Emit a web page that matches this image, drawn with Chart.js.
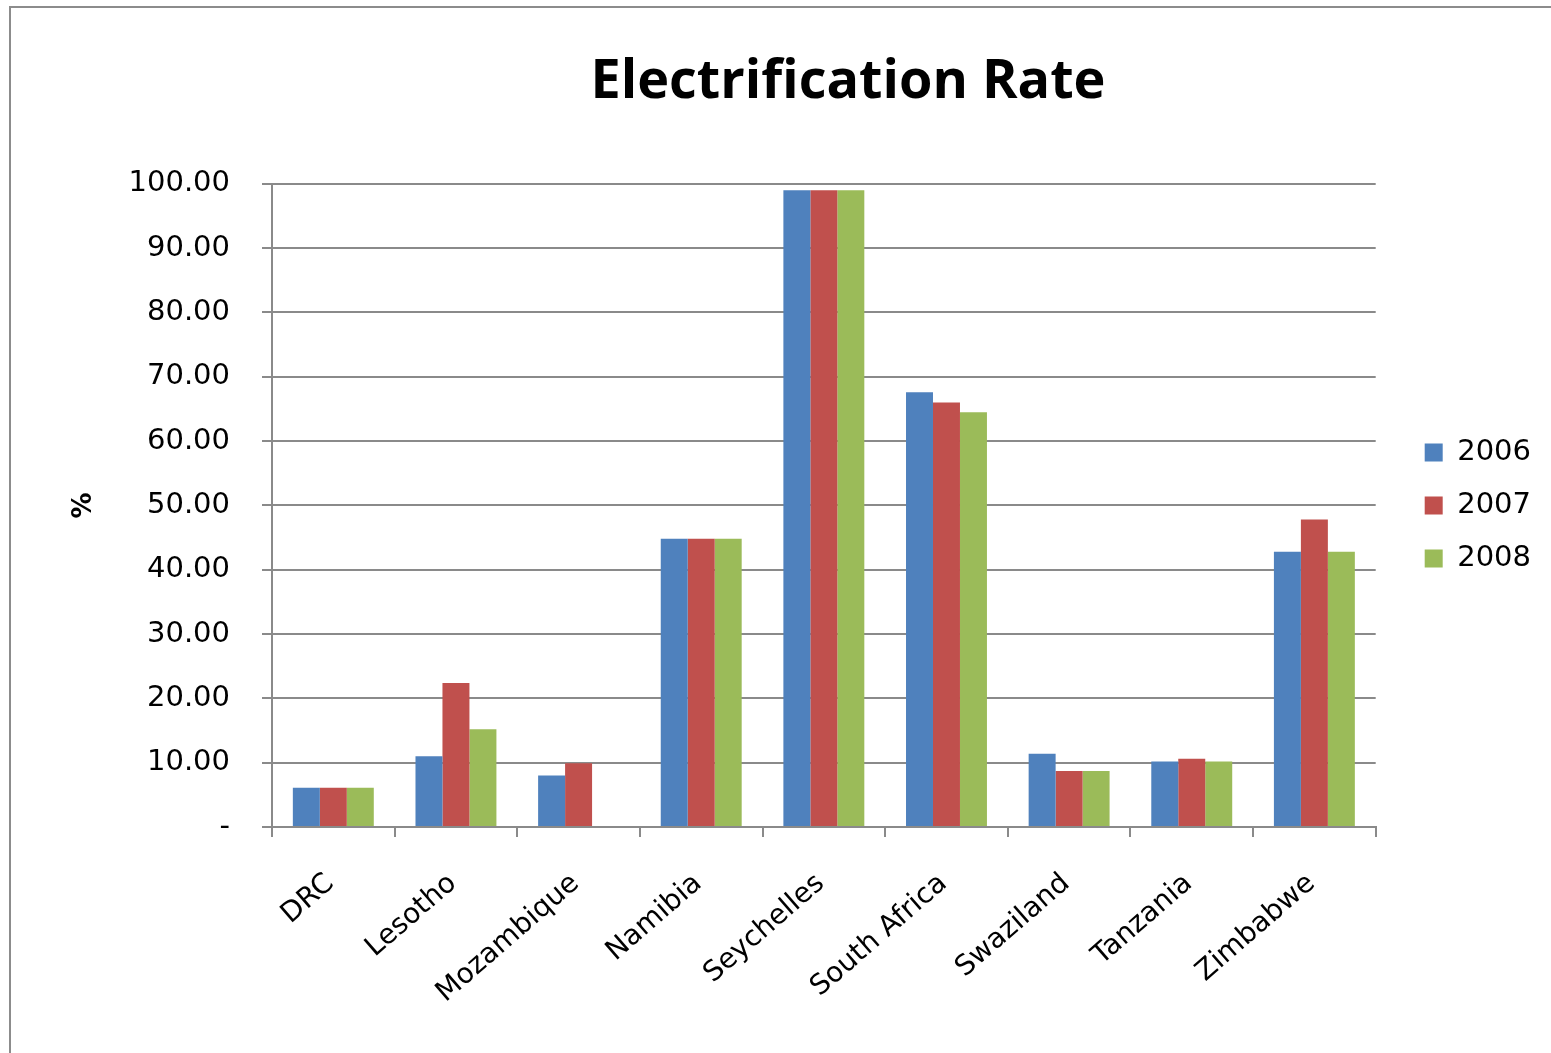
<!DOCTYPE html>
<html>
<head>
<meta charset="utf-8">
<title>Electrification Rate</title>
<script src="https://cdn.jsdelivr.net/npm/chart.js@4.4.1/dist/chart.umd.min.js"></script>
<style>
  html, body { margin: 0; padding: 0; background: #fff; overflow: hidden; }
  #wrap { position: relative; width: 1696px; height: 1053px; }
  #frame {
    position: absolute; left: 9px; top: 6px; width: 1680px; height: 1100px;
    border: 2px solid #8c8c8c; box-sizing: border-box; pointer-events: none;
  }
  canvas { position: absolute; left: 0; top: 0; }
</style>
</head>
<body>
<div id="wrap">
  <canvas id="chart" width="1696" height="1053"></canvas>
  <div id="frame"></div>
</div>
<script>
// Chart data
const categories = ['DRC', 'Lesotho', 'Mozambique', 'Namibia', 'Seychelles',
  'South Africa', 'Swaziland', 'Tanzania', 'Zimbabwe'];
const seriesNames = ['2006', '2007', '2008'];
const rate2006 = [6.1, 11.0, 8.0, 44.8, 99.0, 67.6, 11.4, 10.2, 42.8];
const rate2007 = [6.1, 22.4, 9.9, 44.8, 99.0, 66.0, 8.7, 10.6, 47.8];
const rate2008 = [6.1, 15.2, null, 44.8, 99.0, 64.5, 8.7, 10.2, 42.8];
const yTicks = [0, 10, 20, 30, 40, 50, 60, 70, 80, 90, 100];

const colors = ['#4f81bd', '#c0504d', '#9bbb59'];
const gridColor = '#8a8a8a';
const baseFont = 'DejaVu Sans';

// blank box on the right side of the layout, used as spacing
function spacer(width, weight) {
  return {
    type: 'linear',
    position: 'right',
    display: true,
    weight: weight,
    border: { display: false },
    grid: { display: false },
    ticks: { display: false },
    afterFit: function(scale) {
      scale.width = width;
    }
  };
}

document.addEventListener('DOMContentLoaded', function() {
  const ctx = document.getElementById('chart').getContext('2d');

  const datasets = [rate2006, rate2007, rate2008].map((values, i) => ({
    label: seriesNames[i],
    data: values,
    backgroundColor: colors[i],
    borderWidth: 0,
    categoryPercentage: 0.66,
    barPercentage: 1.0
  }));

  new Chart(ctx, {
    type: 'bar',
    data: { labels: categories, datasets: datasets },
    options: {
      responsive: false,
      animation: false,
      layout: { padding: 0 },
      plugins: {
        title: {
          display: true,
          text: 'Electrification Rate',
          color: '#000',
          font: { family: 'Open Sans', weight: 'bold', size: 54, lineHeight: 1.2 },
          padding: { top: 50, bottom: 69 }
        },
        legend: {
          position: 'right',
          align: 'center',
          fullSize: false,
          labels: {
            color: '#000',
            font: { family: baseFont, size: 29 },
            boxWidth: 18,
            boxHeight: 18,
            padding: 24
          }
        },
        tooltip: { enabled: false }
      },
      scales: {
        x: {
          border: { color: gridColor, width: 2 },
          grid: {
            offset: true,
            drawOnChartArea: false,
            drawTicks: true,
            tickLength: 10,
            color: gridColor,
            lineWidth: 2
          },
          ticks: {
            color: '#000',
            font: { family: baseFont, size: 28 },
            minRotation: 41,
            maxRotation: 41,
            padding: 30,
            labelOffset: -3,
            autoSkip: false
          },
          afterFit: function(scale) {
            scale.height = 226;
          }
        },
        y: {
          min: 0,
          max: 100,
          border: { color: gridColor, width: 2 },
          grid: {
            color: gridColor,
            lineWidth: 2,
            tickLength: 10
          },
          afterBuildTicks: function(scale) {
            scale.ticks = yTicks.map(v => ({ value: v }));
          },
          ticks: {
            color: '#000',
            font: { family: baseFont, size: 29 },
            padding: 32,
            callback: function(value) {
              return value === 0 ? '-' : value.toFixed(2);
            }
          },
          title: {
            display: true,
            text: '%',
            color: '#000',
            font: { family: baseFont, weight: 'bold', size: 26 },
            padding: { top: 69, bottom: 0 }
          },
          afterFit: function(scale) {
            scale.width = 272;
          }
        },
        gapInner: spacer(25, 0),
        gapOuter: spacer(155, 2000)
      }
    }
  });
});
</script>
</body>
</html>
